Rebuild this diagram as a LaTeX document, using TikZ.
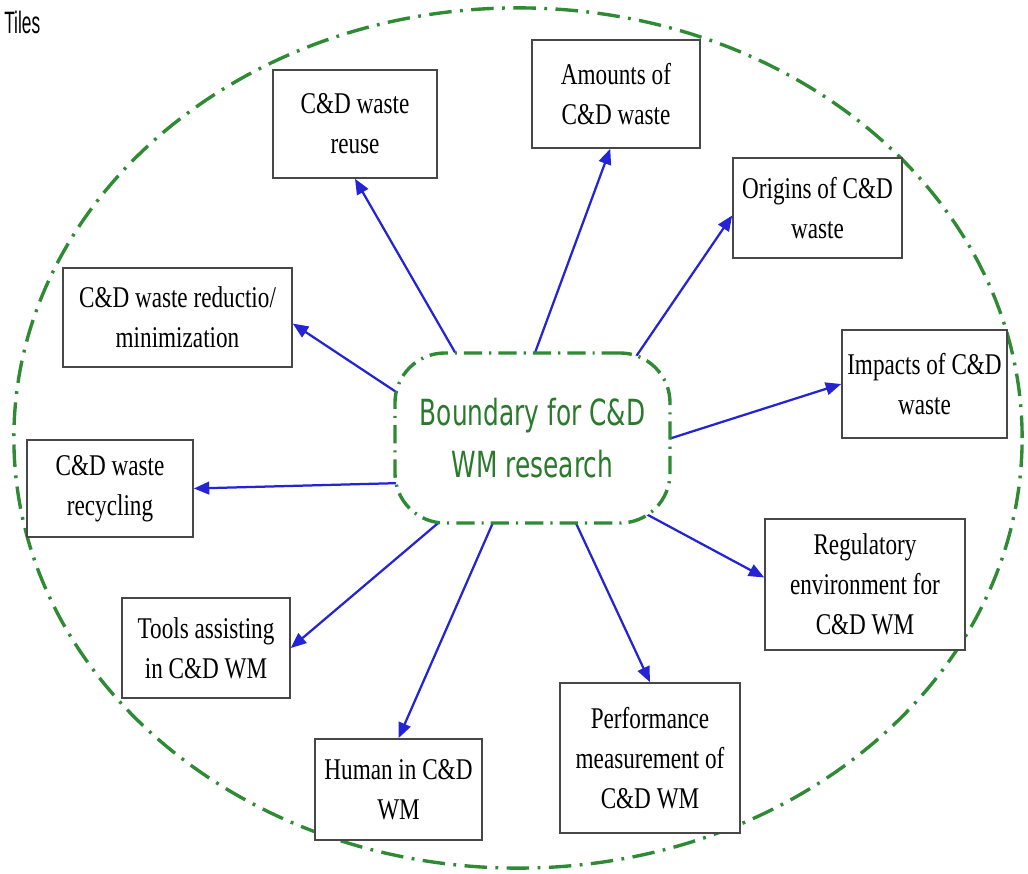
\documentclass[tikz,border=0pt]{standalone}
\usepackage{fontspec}
\setmainfont[FakeStretch=0.77]{Liberation Serif}
\newfontfamily\hubfont[FakeStretch=0.69]{DejaVu Sans}
\newfontfamily\tagfont[FakeStretch=0.56]{Liberation Sans}
\usetikzlibrary{arrows.meta, backgrounds}
\definecolor{cdgreen}{HTML}{2E8B34}
\definecolor{cdtext}{HTML}{2A7A2C}
\definecolor{cdblue}{HTML}{2424D6}
\definecolor{cdgray}{HTML}{474747}

\begin{document}
\begin{tikzpicture}[
  x=0.025cm, y=-0.025cm,
  topic/.style={rectangle, draw=cdgray, line width=1.1pt, fill=white, inner sep=0pt, align=center, font=\fontsize{21.4}{28.5}\selectfont},
  hub/.style={rectangle, rounded corners=1.25cm, draw=cdgreen, line width=2.4pt, fill=white, dash pattern=on 13pt off 5pt on 1.5pt off 5pt, minimum width=6.875cm, minimum height=4.25cm, align=center, text=cdtext, font=\hubfont\fontsize{25.6}{37}\selectfont},
  link/.style={-{Triangle[length=11pt, width=9pt]}, cdblue, line width=1.6pt, shorten <=-18pt},
  rim/.style={cdgreen, line width=2.4pt, dash pattern=on 16pt off 6pt on 2pt off 6pt},
]
\useasboundingbox (0,0) rectangle (1028,874);

% Outer boundary
\draw[rim] (518,438) ellipse [x radius=12.6cm, y radius=10.75cm];

\node[anchor=base west, inner sep=0pt, font=\tagfont\fontsize{22}{26}\selectfont] (tag) at (4,34) {Tiles};

\node[hub] (hub) at (532.5,438) {Boundary for C\&D\\WM research};

\node[topic, minimum width=4.1cm, minimum height=2.7cm] (reuse) at (355,124) {C\&D waste\\reuse};
\node[topic, minimum width=4.2cm, minimum height=2.7cm] (amounts) at (616,94) {Amounts of\\C\&D waste};
\node[topic, minimum width=4.225cm, minimum height=2.5cm] (origins) at (817.5,208) {Origins of C\&D\\waste};
\node[topic, minimum width=5.725cm, minimum height=2.475cm] (reduce) at (177.5,317.5) {C\&D waste reductio/\\minimization};
\node[topic, minimum width=4.125cm, minimum height=2.7cm] (impacts) at (924.5,384) {Impacts of C\&D\\waste};
\node[topic, minimum width=4.15cm, minimum height=2.425cm] (recycle) at (110,488.5) {C\&D waste\\recycling};
\node[topic, minimum width=5cm, minimum height=3.275cm] (regulate) at (865,584.5) {Regulatory\\environment for\\C\&D WM};
\node[topic, minimum width=4.2cm, minimum height=2.5cm] (tools) at (206,648) {Tools assisting\\in C\&D WM};
\node[topic, minimum width=4.175cm, minimum height=2.525cm] (human) at (398.5,789.5) {Human in C\&D\\WM};
\node[topic, minimum width=4.5cm, minimum height=3.75cm] (perf) at (650,758) {Performance\\measurement of\\C\&D WM};

% Spokes, tails tucked under the hub
\begin{pgfonlayer}{background}
\draw[link] (hub.132) -- (reuse.south);
\draw[link] (hub.88) -- (amounts.-96);
\draw[link] (hub.39) -- (origins.185);
\draw[link] (hub.161) -- (reduce.-3);
\draw[link] (hub.0) -- (impacts.west);
\draw[link] (hub.198) -- (recycle.east);
\draw[link] (hub.-33) -- (regulate.176);
\draw[link] (hub.222) -- (tools.east);
\draw[link] (hub.245) -- (human.north);
\draw[link] (hub.-63) -- (perf.north);
\end{pgfonlayer}
\end{tikzpicture}
\end{document}
